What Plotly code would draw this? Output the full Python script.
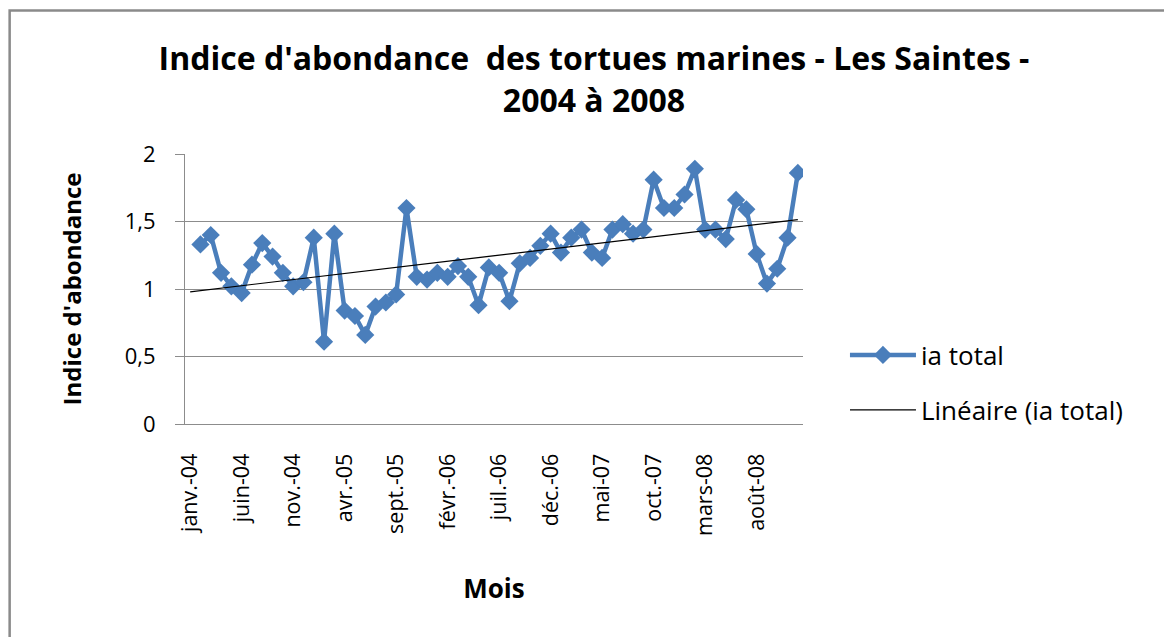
import numpy as np
import plotly.graph_objects as go

month_names = ["janv.", "févr.", "mars", "avr.", "mai", "juin",
               "juil.", "août", "sept.", "oct.", "nov.", "déc."]
years = ["04", "05", "06", "07", "08"]
months = [f"{m}-{y}" for y in years for m in month_names]

ia_total = [None,
            1.33, 1.40, 1.12, 1.02, 0.97, 1.18, 1.34, 1.24, 1.12, 1.02,
            1.05, 1.38, 0.61, 1.41, 0.84, 0.80, 0.66, 0.87, 0.90, 0.96,
            1.60, 1.09, 1.07, 1.12, 1.09, 1.17, 1.09, 0.88, 1.16, 1.12,
            0.91, 1.19, 1.23, 1.32, 1.41, 1.27, 1.38, 1.44, 1.27, 1.23,
            1.44, 1.48, 1.41, 1.44, 1.81, 1.60, 1.60, 1.70, 1.89, 1.44,
            1.44, 1.37, 1.66, 1.59, 1.26, 1.04, 1.15, 1.38, 1.86]

tick_months = months[::5]
y_ticks = [0, 0.5, 1, 1.5, 2]
y_tick_text = ["0", "0,5", "1", "1,5", "2"]

# linear trend (Excel "Linéaire") computed from the data
idx = np.array([i for i, v in enumerate(ia_total) if v is not None], dtype=float)
vals = np.array([v for v in ia_total if v is not None], dtype=float)
slope, intercept = np.polyfit(idx, vals, 1)
trend = intercept + slope * np.arange(len(months))

FONT = "Open Sans"
BLUE = "#4A7EBB"
GRID = "#8C8C8C"

OFF = 8  # default body margin of the html page
W, H = 1172 - OFF, 637 - OFF
# plot area in page pixels
L, R, T, B = 184.5, 803, 154, 424
pw, ph = R - L, B - T

def px_x(x):
    return (x - L) / pw

def px_y(y):
    return (B - y) / ph

fig = go.Figure()
fig.add_trace(go.Scatter(
    x=months, y=ia_total, mode="lines+markers", name="ia total",
    line=dict(color=BLUE, width=4.5),
    marker=dict(symbol="diamond", size=14, color=BLUE),
    connectgaps=False, legend="legend", showlegend=True))
fig.add_trace(go.Scatter(
    x=months, y=trend, mode="lines", name="Linéaire (ia total)",
    line=dict(color="black", width=1.2), legend="legend2", showlegend=True))

fig.update_layout(
    width=W, height=H, showlegend=True,
    margin=dict(l=L - OFF, r=1172 - R, t=T - OFF, b=637 - B, pad=0),
    paper_bgcolor="white", plot_bgcolor="white",
    font=dict(family=FONT, color="black", size=20),
    title=dict(text="<b>Indice d'abondance  des tortues marines - Les Saintes -<br>2004 à 2008</b>",
               x=(594 - OFF) / W, xanchor="center", xref="container",
               y=1 - (70 - OFF) / H, yanchor="middle", yref="container",
               font=dict(family=FONT, size=32, color="black")),
    xaxis=dict(type="category", categoryorder="array", categoryarray=months,
               range=[-0.5, len(months) - 0.5],
               tickmode="array", tickvals=tick_months, ticktext=tick_months,
               tickangle=-90, ticks="", showgrid=False,
               showline=True, linecolor=GRID, linewidth=1,
               ticklabelstandoff=20,
               tickfont=dict(size=21.5, family=FONT),
               title=dict(text="<b>Mois</b>", standoff=44,
                          font=dict(size=26, family=FONT))),
    yaxis=dict(range=[0, 2], tickmode="array", tickvals=y_ticks, ticktext=y_tick_text,
               ticks="outside", ticklen=9, tickcolor=GRID, tickwidth=1,
               showgrid=True, gridcolor=GRID, gridwidth=1,
               showline=True, linecolor=GRID, linewidth=1,
               zeroline=False, ticklabelstandoff=15,
               tickfont=dict(size=22, family=FONT),
               title=dict(text="<b>Indice d'abondance</b>", standoff=36,
                          font=dict(size=24, family=FONT))),
    legend=dict(x=px_x(845), y=px_y(355), xanchor="left", yanchor="middle",
                bgcolor="rgba(0,0,0,0)", itemwidth=66,
                font=dict(size=26, family=FONT)),
    legend2=dict(x=px_x(845), y=px_y(410), xanchor="left", yanchor="middle",
                 bgcolor="rgba(0,0,0,0)", itemwidth=66,
                 font=dict(size=26, family=FONT)),
    shapes=[dict(type="rect", xref="paper", yref="paper",
                 x0=px_x(9), x1=px_x(1200), y0=px_y(700), y1=px_y(10.5),
                 line=dict(color="#8A8A8A", width=2.5), fillcolor="rgba(0,0,0,0)",
                 layer="below")],
)

fig.write_html("out.html")
